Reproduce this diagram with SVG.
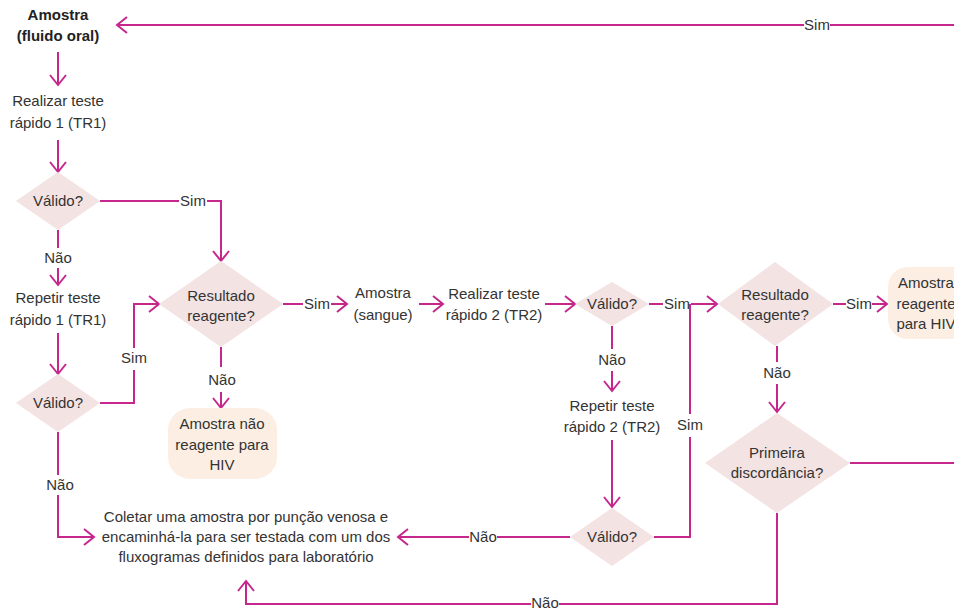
<svg xmlns="http://www.w3.org/2000/svg" width="954" height="609" viewBox="0 0 954 609">
  <style>
    text { font-family: "Liberation Sans", Arial, sans-serif; font-size: 15px; fill: #333333; text-anchor: middle; }
    .bold { font-weight: bold; fill: #222222; }
    .dia { fill: #F3E3E3; }
    .term { fill: #FCEEE3; }
    .wire { fill: none; stroke: #C6278C; stroke-width: 2; }
  </style>
  <defs>
    <marker id="arr" viewBox="-2 -10 14 20" refX="10" refY="0" markerWidth="14" markerHeight="20" markerUnits="userSpaceOnUse" orient="auto">
      <path d="M0,-8 L10,0 L0,8" fill="none" stroke="#C6278C" stroke-width="2"/>
    </marker>
  </defs>
  <rect width="954" height="609" fill="#ffffff"/>

  <!-- connectors -->
  <g id="connectors">
    <!-- loop back to the start -->
    <path class="wire" d="M954,25 H830"/>
    <path class="wire" d="M804,25 H117" marker-end="url(#arr)"/>
    <text x="817" y="30">Sim</text>

    <path class="wire" d="M58,52 V85" marker-end="url(#arr)"/>
    <path class="wire" d="M58,140 V172" marker-end="url(#arr)"/>

    <!-- first validity check -->
    <path class="wire" d="M100,201 H179"/>
    <text x="193" y="206">Sim</text>
    <path class="wire" d="M207,201 H221 V261" marker-end="url(#arr)"/>
    <path class="wire" d="M58,230 V248"/>
    <text x="58" y="263">Não</text>
    <path class="wire" d="M58,268 V285" marker-end="url(#arr)"/>

    <path class="wire" d="M58,333 V374" marker-end="url(#arr)"/>

    <!-- second validity check of TR1 -->
    <path class="wire" d="M100,403 H134 V370"/>
    <text x="134" y="363">Sim</text>
    <path class="wire" d="M134,348 V304 H159" marker-end="url(#arr)"/>
    <path class="wire" d="M58,432 V475"/>
    <text x="60" y="490">Não</text>
    <path class="wire" d="M58,495 V537 H94" marker-end="url(#arr)"/>

    <!-- reagent result of TR1 -->
    <path class="wire" d="M221,347 V367"/>
    <text x="222" y="385">Não</text>
    <path class="wire" d="M221,392 V408" marker-end="url(#arr)"/>
    <path class="wire" d="M283,304 H303"/>
    <text x="317" y="309">Sim</text>
    <path class="wire" d="M331,304 H347" marker-end="url(#arr)"/>

    <path class="wire" d="M419,304 H443" marker-end="url(#arr)"/>
    <path class="wire" d="M545,304 H575" marker-end="url(#arr)"/>

    <!-- validity of TR2 -->
    <path class="wire" d="M649,304 H663"/>
    <text x="677" y="309">Sim</text>
    <path class="wire" d="M691,304 H717" marker-end="url(#arr)"/>
    <path class="wire" d="M612,326 V349"/>
    <text x="612" y="365">Não</text>
    <path class="wire" d="M612,371 V391" marker-end="url(#arr)"/>
    <path class="wire" d="M612,440 V507" marker-end="url(#arr)"/>

    <!-- repeated TR2 check -->
    <path class="wire" d="M654,537 H690 V437"/>
    <text x="690" y="430">Sim</text>
    <path class="wire" d="M690,414 V304"/>
    <path class="wire" d="M570,537 H497"/>
    <text x="483" y="542">Não</text>
    <path class="wire" d="M469,537 H398" marker-end="url(#arr)"/>

    <!-- reagent result of TR2 -->
    <path class="wire" d="M833,304 H846"/>
    <text x="859" y="309">Sim</text>
    <path class="wire" d="M872,304 H887" marker-end="url(#arr)"/>
    <path class="wire" d="M777,346 V362"/>
    <text x="777" y="378">Não</text>
    <path class="wire" d="M777,384 V412" marker-end="url(#arr)"/>

    <!-- first discordance -->
    <path class="wire" d="M850,463 H954"/>
    <path class="wire" d="M777,513 V604 H559"/>
    <text x="545" y="608">Não</text>
    <path class="wire" d="M531,604 H246 V581" marker-end="url(#arr)"/>
  </g>

  <!-- nodes -->
  <g id="start">
    <text class="bold" x="58" y="20">Amostra</text>
    <text class="bold" x="58" y="41">(fluido oral)</text>
  </g>
  <g id="tr1">
    <text x="58" y="106">Realizar teste</text>
    <text x="58" y="128">rápido 1 (TR1)</text>
  </g>
  <g id="valid1">
    <polygon class="dia" points="58,172 100,201 58,230 16,201"/>
    <text x="58" y="206">Válido?</text>
  </g>
  <g id="repeat-tr1">
    <text x="58" y="303">Repetir teste</text>
    <text x="58" y="325">rápido 1 (TR1)</text>
  </g>
  <g id="valid2">
    <polygon class="dia" points="58,374 100,403 58,432 16,403"/>
    <text x="58" y="408">Válido?</text>
  </g>
  <g id="reagent1">
    <polygon class="dia" points="221,261 283,304 221,347 159,304"/>
    <text x="221" y="301">Resultado</text>
    <text x="221" y="321">reagente?</text>
  </g>
  <g id="non-reagent">
    <rect class="term" x="168" y="408" width="109" height="71" rx="22"/>
    <text x="222" y="429">Amostra não</text>
    <text x="222" y="450">reagente para</text>
    <text x="222" y="470">HIV</text>
  </g>
  <g id="blood">
    <text x="383" y="298">Amostra</text>
    <text x="383" y="320">(sangue)</text>
  </g>
  <g id="tr2">
    <text x="494" y="299">Realizar teste</text>
    <text x="494" y="320">rápido 2 (TR2)</text>
  </g>
  <g id="valid3">
    <polygon class="dia" points="612,282 649,304 612,326 575,304"/>
    <text x="612" y="309">Válido?</text>
  </g>
  <g id="repeat-tr2">
    <text x="612" y="411">Repetir teste</text>
    <text x="612" y="432">rápido 2 (TR2)</text>
  </g>
  <g id="valid4">
    <polygon class="dia" points="612,508 654,537 612,566 570,537"/>
    <text x="612" y="542">Válido?</text>
  </g>
  <g id="venous">
    <text x="246" y="522">Coletar uma amostra por punção venosa e</text>
    <text x="246" y="542">encaminhá-la para ser testada com um dos</text>
    <text x="246" y="562">fluxogramas definidos para laboratório</text>
  </g>
  <g id="reagent2">
    <polygon class="dia" points="775,262 833,304 775,346 718,304"/>
    <text x="775" y="300">Resultado</text>
    <text x="775" y="320">reagente?</text>
  </g>
  <g id="reagent-hiv">
    <rect class="term" x="888" y="267" width="100" height="72" rx="20"/>
    <text x="926" y="288">Amostra</text>
    <text x="926" y="309">reagente</text>
    <text x="926" y="329">para HIV</text>
  </g>
  <g id="discordance">
    <polygon class="dia" points="777,413 850,463 777,513 705,463"/>
    <text x="777" y="458">Primeira</text>
    <text x="777" y="478">discordância?</text>
  </g>
</svg>
